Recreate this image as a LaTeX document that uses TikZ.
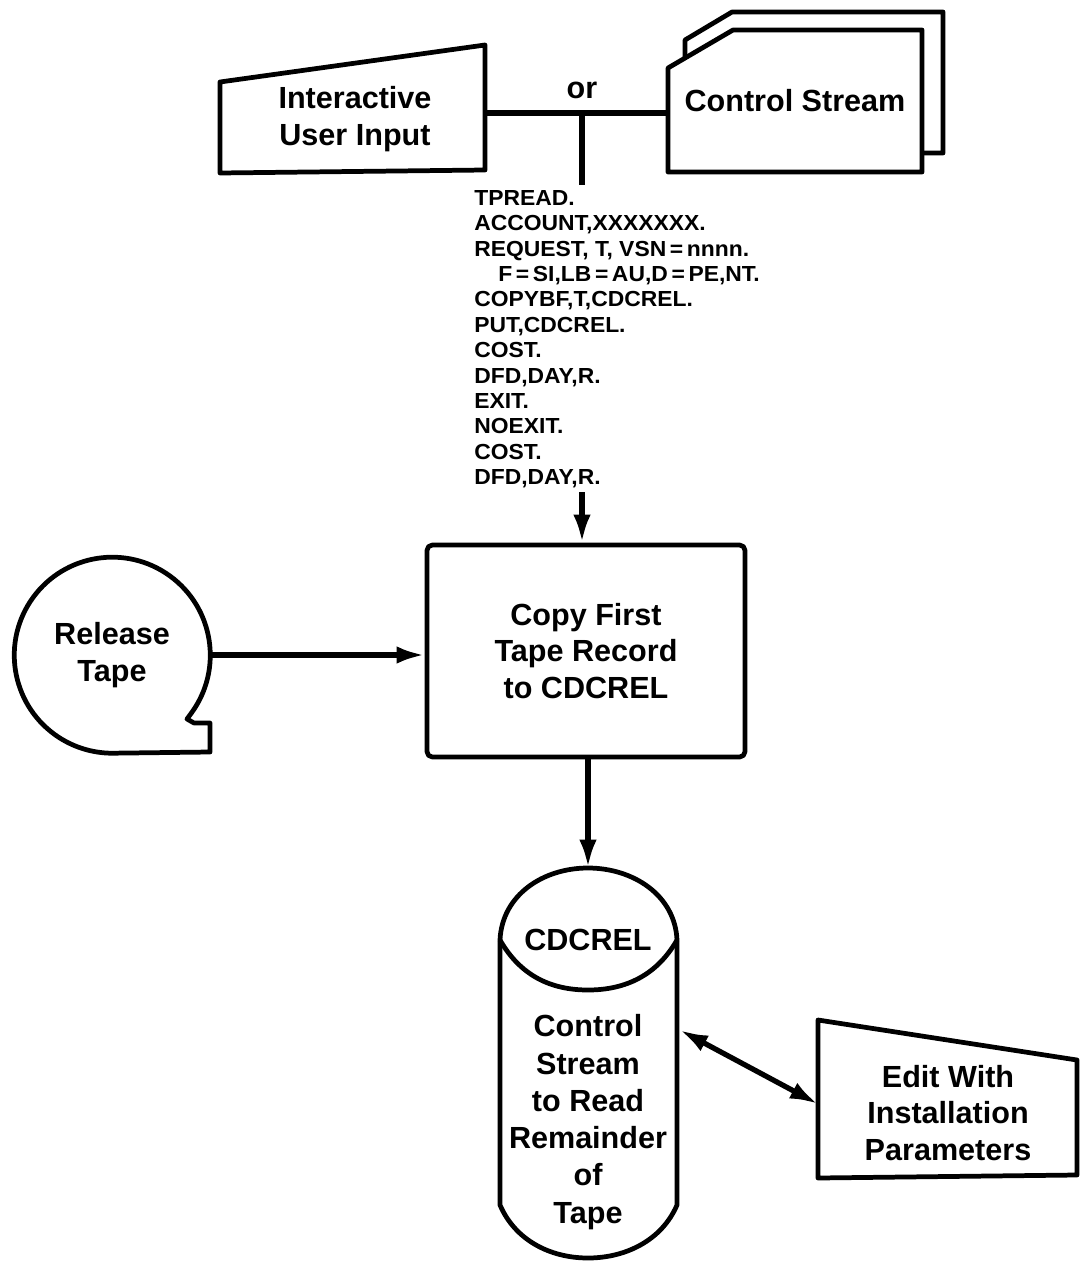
\documentclass[tikz,border=0pt]{standalone}
\usepackage{fontspec}
\setmainfont{Liberation Sans}
\newfontfamily\jclfont{Liberation Sans}[FakeStretch=1.05]
\usetikzlibrary{arrows.meta,calc}

\begin{document}
\begin{tikzpicture}[x=0.02cm,y=-0.02cm,line join=round,
  >={Latex[length=16pt,width=10pt]},
  outline/.style={draw, line width=2.7pt},
  txt/.style={font=\fontsize{17.4}{20.6}\selectfont\bfseries, align=center, inner sep=0},
  jclbox/.style={font=\jclfont\fontsize{12.4}{14.45}\selectfont\bfseries, align=left, inner sep=0, anchor=north west},
  link/.style={line width=3pt},
  flow/.style={->, line width=3pt}]
\useasboundingbox (0,0) rectangle (1080,1261);

\draw[outline] (220,82) -- (485,45) -- (485,170) -- (220,173) -- cycle;
\node[txt] (inp) at (355,119) {Interactive\\User Input};
\draw[outline] (685,58) -- (685,40) -- (732,12) -- (943,12) -- (943,153) -- (922,153);
\draw[outline] (668,172) -- (668,68) -- (733,30) -- (922,30) -- (922,172) -- cycle;
\node[txt] (cs) at (795,101) {Control Stream};
\node[txt] (ortxt) at (582,90) {or};
\coordinate (inp-e) at (485,113);
\coordinate (cs-w) at (668,113);
\coordinate (jn) at (582,113);
\draw[link] (inp-e) -- (cs-w);

\node[jclbox] (jcl) at (474,190) {TPREAD.\\ACCOUNT,XXXXXXX.\\REQUEST, T, VSN\,=\,nnnn.\\
\hspace*{1.1em}F\,=\,SI,LB\,=\,AU,D\,=\,PE,NT.\\COPYBF,T,CDCREL.\\PUT,CDCREL.\\COST.\\
DFD,DAY,R.\\EXIT.\\NOEXIT.\\COST.\\DFD,DAY,R.};
\draw[link] (jn) -- ($(jn |- jcl.north)+(0,-5)$);

\node[outline, txt, rounded corners=3pt, minimum width=6.36cm, minimum height=4.24cm] (copy) at (586,651) {Copy First\\Tape Record\\to CDCREL};
\draw[flow] ($(jn |- jcl.south)+(0,4)$) -- (jn |- copy.north);

\node[txt, circle, minimum size=3.92cm] (tape) at (112,655) {Release\\Tape};
\draw[outline] (tape.-36) arc[start angle=36, end angle=-270, radius=98] -- (210,752) -- (210,723) -- (194,723) -- (187,719) -- cycle;
\draw[flow] (tape.east) -- (tape.east -| copy.west);

\node[minimum width=3.54cm, minimum height=7.8cm, inner sep=0] (db) at (588,1063) {};
\draw[outline] (500,940) .. controls (502,895) and (543,868) .. (588,868) .. controls (633,868) and (675,895) .. (677,940)
  -- (677,1205) .. controls (662,1240) and (626,1258) .. (588,1258) .. controls (550,1258) and (515,1240) .. (500,1205) -- cycle;
\draw[outline] (500,940) .. controls (520,975) and (550,990) .. (588,990) .. controls (626,990) and (657,975) .. (677,940);
\node[txt] (dbtop) at (588,940) {CDCREL};
\node[txt, font=\fontsize{17.4}{21.2}\selectfont\bfseries] (dbtxt) at (588,1122) {Control\\Stream\\to Read\\Remainder\\of\\Tape};
\draw[flow] (db.north |- copy.south) -- (db.north);

\draw[outline] (818,1020) -- (1077,1060) -- (1077,1175) -- (818,1178) -- cycle;
\node[txt] (ed) at (948,1113) {Edit With\\Installation\\Parameters};
\coordinate (ed-w) at (818,1104);
\draw[<->, line width=3pt] ($(db.east)+(3,-33)$) -- (ed-w);
\end{tikzpicture}
\end{document}
